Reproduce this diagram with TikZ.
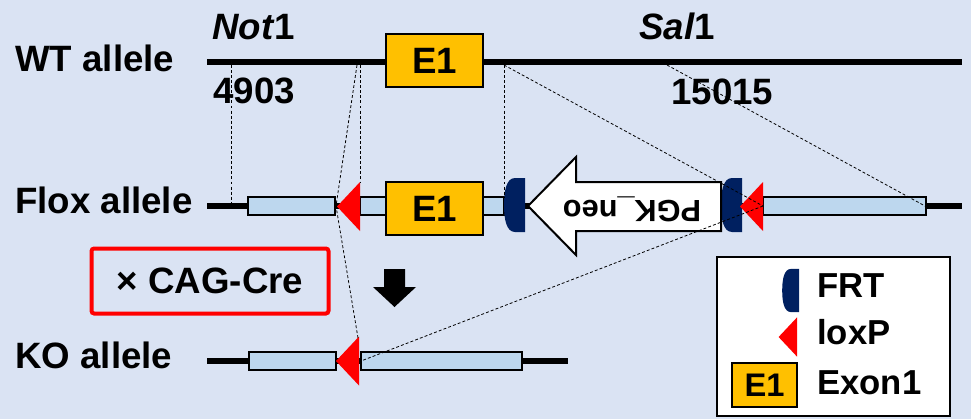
\documentclass[tikz,border=0pt]{standalone}
\usepackage{fontspec}
\setmainfont{Liberation Sans}
\begin{document}
\begin{tikzpicture}[
    x=0.75pt, y=-0.75pt,
    every node/.style={font=\bfseries\fontsize{27.5}{30}\selectfont, inner sep=0pt},
    dna/.style={draw=black, line width=4.5pt},
    segment/.style={fill=segblue, draw=black, line width=1.5pt},
    exonbox/.style={fill=exonyellow, draw=black, line width=1.2pt, minimum width=97*0.75pt, minimum height=53*0.75pt},
    guide/.style={draw=black, line width=0.6pt, dash pattern=on 2.2pt off 1.6pt},
    line join=miter
]

% Colors
\definecolor{bgblue}{RGB}{218,227,243}
\definecolor{segblue}{RGB}{189,215,238}
\definecolor{exonyellow}{RGB}{255,192,0}
\definecolor{frtblue}{RGB}{0,32,96}
\definecolor{loxred}{RGB}{255,0,0}

% background
\fill[bgblue] (0,0) rectangle (971,419);
\useasboundingbox (0,0) rectangle (971,419);

% ----------------------------------------------------
% site symbols
% ----------------------------------------------------
\newcommand{\loxsite}[3]{%
\begin{scope}[shift={(#1,#2)}, scale=#3]
\fill[loxred] (-23,0) -- (0,-24.5) -- (0,24.5) -- cycle;
\end{scope}
}
\newcommand{\frtsite}[3]{%
\begin{scope}[shift={(#1,#2)}, scale=#3]
\fill[frtblue] (0,-27) -- (-10,-27)
.. controls (-19,-27) and (-21,-13) .. (-21,0)
.. controls (-21,13) and (-19,27) .. (-10,27)
-- (0,27) -- cycle;
\end{scope}
}

% ----------------------------------------------------
% WT allele
% ----------------------------------------------------
\draw[dna] (207,62) -- (962,62);
\node[exonbox] (wtexon) at (434.5,60.5) {E1};

\node[anchor=base west] (wtlabel) at (15,71) {WT allele};
\node[anchor=base west] (notsite) at (212,39) {\textit{Not}1};
\node[anchor=base west] (salsite) at (639,39) {\textit{Sal}1};
\node[anchor=base west] (notpos) at (213,103) {4903};
\node[anchor=base west] (salpos) at (671,104) {15015};

% ----------------------------------------------------
% Flox allele
% ----------------------------------------------------
\draw[dna] (207,206) -- (962,206);
\draw[segment] (248,197) rectangle (335,215);
\draw[segment] (360,197) rectangle (386,215);
\draw[segment] (483,197) rectangle (504,215);
\draw[segment] (763,197) rectangle (926,215);
\node[exonbox] (flexon) at (434.5,208.5) {E1};

\loxsite{360}{206.5}{1}
\frtsite{525}{205}{1}
\frtsite{742}{205}{1}
\loxsite{763}{206.5}{1}

% neo cassette
\draw[fill=white, line width=1.5pt] (528,206) -- (576,157) -- (576,182) -- (721,182)
-- (721,231) -- (576,231) -- (576,255) -- cycle;
\node[anchor=base, rotate=180, font=\bfseries\fontsize{23}{26}\selectfont] (neo) at (632,200) {PGK\_neo};

\node[anchor=base west] (fllabel) at (15,213) {Flox allele};

% ----------------------------------------------------
% Cre cross and KO allele
% ----------------------------------------------------
\node[draw=loxred, line width=3pt, rounded corners=2pt, minimum width=237*0.75pt, minimum height=65*0.75pt] (cre) at (210,281) {× CAG-Cre};
\fill (384,269) -- (405,269) -- (405,287) -- (416,287) -- (394.5,307) -- (373,287) -- (384,287) -- cycle;

\draw[dna] (207,361) -- (568,361);
\draw[segment] (249,352) rectangle (336,370);
\draw[segment] (361,352) rectangle (522,370);
\loxsite{359}{361}{1}

\node[anchor=base west] (kolabel) at (15,368) {KO allele};

% ----------------------------------------------------
% dashed guides
% ----------------------------------------------------
\coordinate (wtnotA) at (231,65);
\coordinate (flnotA) at (231,204);
\coordinate (wtloxA) at (357,65);
\coordinate (flloxA) at (336,206);
\coordinate (koloxA) at (358,338);
\coordinate (wtloxB) at (360,65);
\coordinate (flloxB) at (360,183);
\coordinate (wtexB) at (504,65);
\coordinate (flexB) at (504,198);
\coordinate (flloxC) at (763,206);
\coordinate (wtsal) at (667,65);
\coordinate (flsal) at (925,206);
\coordinate (koloxC) at (361,361);

\draw[guide] (wtnotA) -- (flnotA);
\draw[guide] (wtloxA) -- (flloxA) -- (koloxA);
\draw[guide] (wtloxB) -- (flloxB);
\draw[guide] (wtexB) -- (flexB);
\draw[guide] (wtexB) -- (flloxC);
\draw[guide] (wtsal) -- (flsal);
\draw[guide] (flloxC) -- (koloxC);

% ----------------------------------------------------
% Legend
% ----------------------------------------------------
\draw[fill=white, line width=1.5pt] (717,257) rectangle (950,416);
\frtsite{799}{290.5}{0.8}
\loxsite{797}{337}{0.8}
\node[exonbox, minimum width=65*0.75pt, minimum height=44*0.75pt, font=\bfseries\fontsize{24.5}{26}\selectfont] (keyexon) at (764.5,385) {E1};
\node[anchor=base west, font=\bfseries\fontsize{26}{28}\selectfont] (keyfrt) at (817,297) {FRT};
\node[anchor=base west, font=\bfseries\fontsize{26}{28}\selectfont] (keylox) at (817,344) {loxP};
\node[anchor=base west, font=\bfseries\fontsize{26}{28}\selectfont] (keyex) at (817,394) {Exon1};

\end{tikzpicture}
\end{document}
